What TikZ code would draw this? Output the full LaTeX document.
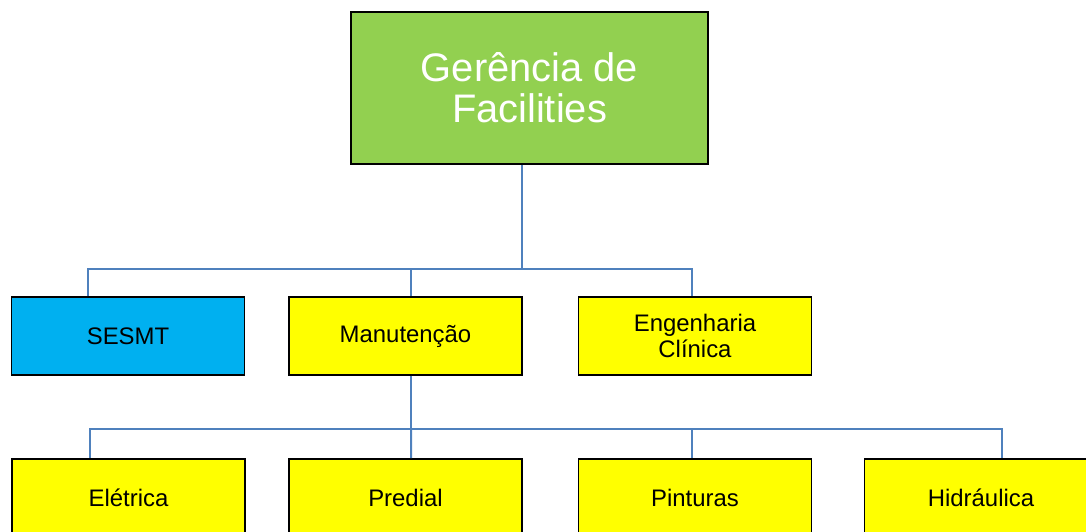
\documentclass[tikz,border=0pt]{standalone}
\usepackage{fontspec}
\setmainfont{Liberation Sans}

\definecolor{boxgreen}{RGB}{146,208,80}
\definecolor{boxblue}{RGB}{0,176,240}
\definecolor{boxyellow}{RGB}{255,255,0}
\definecolor{linkblue}{RGB}{79,129,189}

\begin{document}
\begin{tikzpicture}
[
    x=1bp,y=1bp,
    unit/.style={draw=black, line width=1.5bp, fill=boxyellow, inner sep=0pt,
        minimum width=233bp, minimum height=78bp, align=center,
        font=\fontsize{24}{26}\selectfont},
    link/.style={draw=linkblue, line width=2bp}
]

% Page size and cut at the bottom edge
\useasboundingbox (0,0) rectangle (1086,532);
\clip (0,0) rectangle (1086,532);

% Head box
\node
[
    draw=black,
    line width=2bp,
    fill=boxgreen,
    text=white,
    inner sep=0pt,
    minimum width=357bp,
    minimum height=152bp,
    align=center,
    font=\fontsize{40}{41}\selectfont
] (gerencia) at (529.5,444) {Gerência de\\Facilities};

% Second level
\node[unit, fill=boxblue] (sesmt) at (128,196) {SESMT};
\node[unit] (manutencao) at (405.5,196) {Manutenção};
\node[unit] (engenharia) at (695,196) {Engenharia\\Clínica};

% Third level
\node[unit] (eletrica) at (128.5,34) {Elétrica};
\node[unit] (predial) at (405.5,34) {Predial};
\node[unit] (pinturas) at (695,34) {Pinturas};
\node[unit] (hidraulica) at (981,34) {Hidráulica};

% Connectors
\coordinate (bus1) at (522,263);
\coordinate (bus2) at (411,103);
\draw[link] (gerencia.south -| bus1) -- (bus1);
\draw[link] ([xshift=-40bp]sesmt.north) |- (bus1) -| ([xshift=-3bp]engenharia.north);
\draw[link] ([xshift=5.5bp]manutencao.north) -- ([xshift=5.5bp]manutencao.north |- bus1);
\draw[link] (manutencao.south -| bus2) -- (bus2);
\draw[link] ([xshift=-38.5bp]eletrica.north) |- (bus2) -| ([xshift=21bp]hidraulica.north);
\draw[link] ([xshift=5.5bp]predial.north) -- (bus2);
\draw[link] ([xshift=-3bp]pinturas.north) -- ([xshift=-3bp]pinturas.north |- bus2);

\end{tikzpicture}
\end{document}
